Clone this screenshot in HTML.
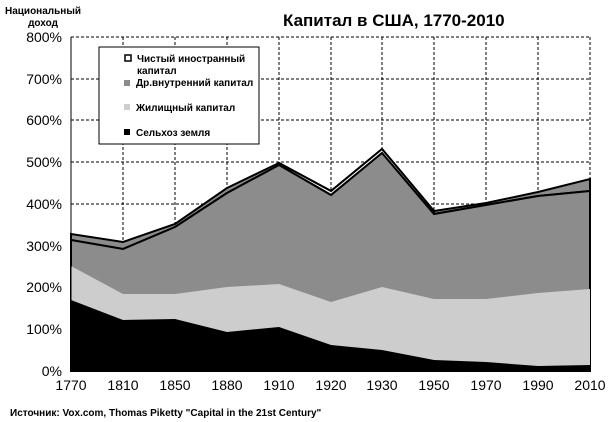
<!DOCTYPE html>
<html><head><meta charset="utf-8"><style>
body{margin:0;background:#fff;}
svg{display:block;font-family:"Liberation Sans",Arial,sans-serif;}
</style></head><body>
<svg width="610" height="422" viewBox="0 0 610 422" xmlns="http://www.w3.org/2000/svg">
<rect width="610" height="422" fill="#fff"/>
<g stroke="#000" stroke-width="1" stroke-dasharray="3,2">
<line x1="71" y1="37" x2="590" y2="37"/><line x1="71" y1="79" x2="590" y2="79"/>
<line x1="71" y1="120" x2="590" y2="120"/><line x1="71" y1="162" x2="590" y2="162"/>
<line x1="71" y1="204" x2="590" y2="204"/><line x1="71" y1="246" x2="590" y2="246"/>
<line x1="71" y1="287" x2="590" y2="287"/><line x1="71" y1="329" x2="590" y2="329"/>
<line x1="123" y1="37" x2="123" y2="371"/><line x1="175" y1="37" x2="175" y2="371"/>
<line x1="227" y1="37" x2="227" y2="371"/><line x1="279" y1="37" x2="279" y2="371"/>
<line x1="331" y1="37" x2="331" y2="371"/><line x1="382" y1="37" x2="382" y2="371"/>
<line x1="434" y1="37" x2="434" y2="371"/><line x1="486" y1="37" x2="486" y2="371"/>
<line x1="538" y1="37" x2="538" y2="371"/><line x1="590" y1="37" x2="590" y2="371"/>
</g>
<polygon points="71,234 123,242 175,224 227,188 279,163 331,191 382,149 434,211 486,203 538,192 590,179 590,191 538,196 486,205 434,214 382,153 331,195 279,165 227,193 175,227 123,249 71,240" fill="#8c8c8c" stroke="#000" stroke-width="2"/>
<polygon points="279,163 331,191 382,149 434,211 434,214 382,153 331,195 279,165" fill="#fff" stroke="#000" stroke-width="2"/>
<polygon points="71,240 123,249 175,227 227,193 279,165 331,195 382,153 434,214 486,205 538,196 590,191 590,371 71,371" fill="#8c8c8c" stroke="#000" stroke-width="2"/>
<polygon points="71,266 123,294 175,294 227,287 279,284 331,302 382,287 434,299 486,299 538,293 590,289 590,371 71,371" fill="#cdcdcd"/>
<polygon points="71,300 123,320 175,319 227,332 279,327 331,345 382,350 434,360 486,362 538,366 590,365 590,371 71,371" fill="#000"/>
<line x1="71" y1="37" x2="71" y2="371" stroke="#000" stroke-width="1"/>
<line x1="71" y1="371" x2="590" y2="371" stroke="#000" stroke-width="2"/>
<g font-size="14" text-anchor="end" fill="#000">
<text x="62" y="42">800%</text><text x="62" y="84">700%</text><text x="62" y="125">600%</text>
<text x="62" y="167">500%</text><text x="62" y="209">400%</text><text x="62" y="251">300%</text>
<text x="62" y="292">200%</text><text x="62" y="334">100%</text><text x="62" y="376">0%</text>
</g>
<g font-size="14" text-anchor="middle">
<text x="71" y="390">1770</text><text x="123" y="390">1810</text><text x="175" y="390">1850</text>
<text x="227" y="390">1880</text><text x="279" y="390">1910</text><text x="331" y="390">1920</text>
<text x="382" y="390">1930</text><text x="434" y="390">1950</text><text x="486" y="390">1970</text>
<text x="538" y="390">1990</text><text x="590" y="390">2010</text>
</g>
<text x="43" y="14" font-size="10" font-weight="bold" text-anchor="middle">Национальный</text>
<text x="43" y="26" font-size="10" font-weight="bold" text-anchor="middle">доход</text>
<text x="283" y="26" font-size="17" font-weight="bold">Капитал в США,  1770-2010</text>
<text x="10" y="416" font-size="10" font-weight="bold">Источник: Vox.com, Thomas Piketty "Capital in the 21st Century"</text>
<rect x="99" y="47" width="160" height="97" fill="#fff" stroke="#000" stroke-width="1"/>
<rect x="125" y="55" width="6" height="6" fill="#fff" stroke="#000" stroke-width="1.5"/>
<rect x="124" y="80" width="6" height="6" fill="#8c8c8c"/>
<rect x="124" y="104" width="6" height="6" fill="#cdcdcd"/>
<rect x="124" y="129" width="6" height="6" fill="#000"/>
<g font-size="10" font-weight="bold">
<text x="137" y="62">Чистый иностранный</text>
<text x="137" y="74">капитал</text>
<text x="136" y="86">Др.внутренний капитал</text>
<text x="136" y="111">Жилищный капитал</text>
<text x="136" y="136">Сельхоз земля</text>
</g>
</svg>
</body></html>
